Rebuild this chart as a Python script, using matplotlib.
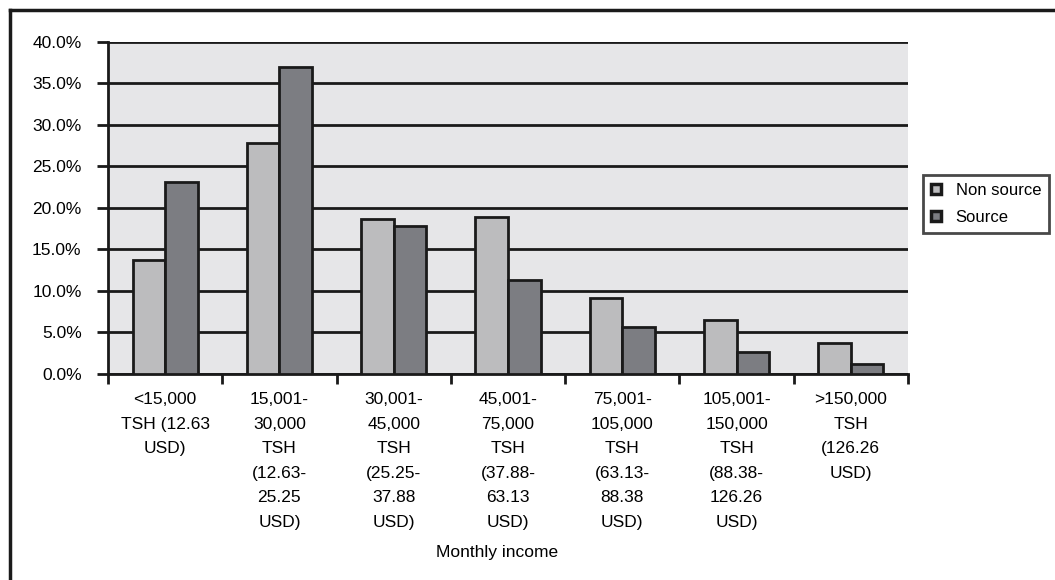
import matplotlib.pyplot as plt
import numpy as np
from matplotlib.patches import Patch
from matplotlib.lines import Line2D

plt.rcParams['font.family'] = ['Liberation Sans', 'DejaVu Sans']

categories = ["<15,000\nTSH (12.63\nUSD)",
              "15,001-\n30,000\nTSH\n(12.63-\n25.25\nUSD)",
              "30,001-\n45,000\nTSH\n(25.25-\n37.88\nUSD)",
              "45,001-\n75,000\nTSH\n(37.88-\n63.13\nUSD)",
              "75,001-\n105,000\nTSH\n(63.13-\n88.38\nUSD)",
              "105,001-\n150,000\nTSH\n(88.38-\n126.26\nUSD)",
              ">150,000\nTSH\n(126.26\nUSD)"]
non_source = [13.7, 27.8, 18.6, 18.9, 9.2, 6.5, 3.7]
source = [23.1, 36.9, 17.8, 11.3, 5.7, 2.7, 1.2]
yticks = [0, 5, 10, 15, 20, 25, 30, 35, 40]

fig = plt.figure(figsize=(10.55, 5.8), dpi=100)
ax = fig.add_axes([108/1055, 1-374/580, 800/1055, (374-41.7)/580])
ax.set_facecolor('#e6e6e8')

x = np.arange(len(categories))
w = 0.285
ax.bar(x - w/2, non_source, w, color='#bcbcbe', edgecolor='#1a1a1a', linewidth=2, zorder=3, label='Non source')
ax.bar(x + w/2, source, w, color='#7c7d82', edgecolor='#1a1a1a', linewidth=2, zorder=3, label='Source')

ax.set_xlim(-0.5, len(categories) - 0.5)
ax.set_ylim(0, 40)
ax.set_yticks(yticks)
ax.set_yticklabels(["{:.1f}%".format(v) for v in yticks], fontsize=12.5)
ax.yaxis.grid(True, color='#1a1a1a', linewidth=2, zorder=1)
ax.set_axisbelow(True)

ax.set_xticks(x)
ax.set_xticklabels(categories, fontsize=12.5, linespacing=1.8, va='top')
ax.tick_params(axis='x', length=0, pad=13)
ax.set_xticks(np.arange(len(categories) + 1) - 0.5, minor=True)
ax.tick_params(axis='x', which='minor', length=7, width=2, color='#1a1a1a', direction='out')
ax.tick_params(axis='y', length=8, width=2, color='#1a1a1a', direction='out', pad=11)

for s in ['top', 'right']:
    ax.spines[s].set_visible(False)
for s in ['left', 'bottom']:
    ax.spines[s].set_linewidth(2)
    ax.spines[s].set_color('#1a1a1a')

fig.text(497/1055, 1-553/580, "Monthly income", ha='center', va='center', fontsize=12.5)

handles = [Patch(facecolor='#bcbcbe', edgecolor='#1a1a1a', linewidth=2.5, label='Non source'),
           Patch(facecolor='#7c7d82', edgecolor='#1a1a1a', linewidth=2.5, label='Source')]
leg = fig.legend(handles=handles, loc='upper left', bbox_to_anchor=(923/1055, 1-175/580),
                 fontsize=12, frameon=True, fancybox=False, handlelength=0.55, handleheight=0.55,
                 handletextpad=0.9, borderpad=0.5, labelspacing=0.7, borderaxespad=0)
leg.get_frame().set_edgecolor('#1a1a1a')
leg.get_frame().set_linewidth(2)

fig.add_artist(Line2D([9.5/1055, 9.5/1055], [0, 1-10/580], color='#1a1a1a', linewidth=2.5))
fig.add_artist(Line2D([9.5/1055, 1], [1-10/580, 1-10/580], color='#1a1a1a', linewidth=2.5))

fig.savefig("out.png", dpi=100)
